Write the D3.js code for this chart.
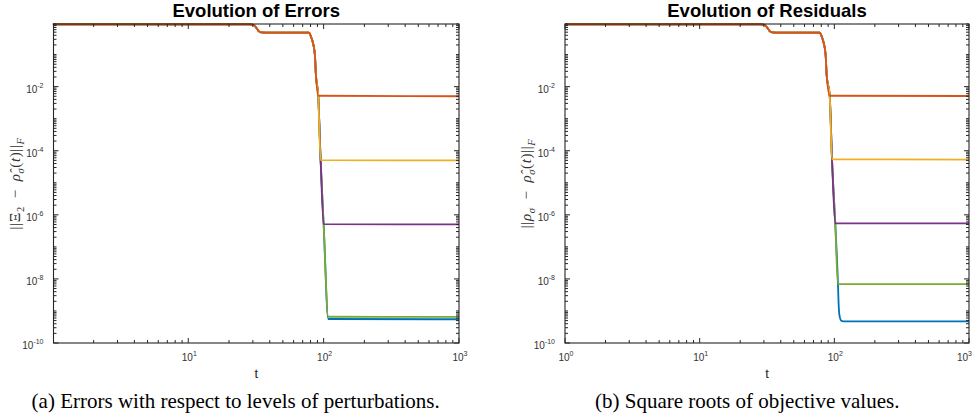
<!DOCTYPE html>
<html>
<head>
<meta charset="utf-8">
<script src="https://cdn.jsdelivr.net/npm/d3@7/dist/d3.min.js"></script>
<style>
  body { margin: 0; background: #fff; }
  svg { display: block; }
  .tick-label { font-family: "Liberation Sans", Arial, sans-serif; font-size: 10px; fill: #333; }
  .title { font-family: "Liberation Sans", Arial, sans-serif; font-size: 18.5px; font-weight: bold; fill: #000; }
  .xlabel { font-family: "Liberation Sans", Arial, sans-serif; font-size: 13px; fill: #262626; }
  .ylabel { font-family: "Liberation Serif", "Times New Roman", serif; font-size: 15px; fill: #333; letter-spacing: 0.6px; }
  .caption { font-family: "Liberation Serif", "Times New Roman", serif; font-size: 21px; fill: #000; }
</style>
</head>
<body>
<div id="chart"></div>
<script>
// drawing order: bottom to top
var seriesNames = ["blue", "green", "purple", "yellow", "orange"];
var seriesColors = ["#0072BD", "#77AC30", "#7E2F8E", "#EDB120", "#D95319"];

// common start of every run (both panels)
var tHead = [1, 28.5, 30.2, 31.2, 32.2, 33.3, 34.8, 37, 77.9, 80.5, 83.4, 86.2, 87.7];
var vHead = [0.87, 0.87, 0.84, 0.76, 0.64, 0.53, 0.49, 0.485, 0.48, 0.37, 0.23, 0.097, 0.023];

// left panel: errors, tails after the common start
var errTailT = {
  blue:   [91.2, 95.0, 100.0, 108.3, 1000],
  green:  [91.2, 95.0, 100.0, 108.1, 1000],
  purple: [91.2, 95.0, 100.0, 1000],
  yellow: [91.2, 95.0, 1000],
  orange: [91.2, 1000]
};
var errTailV = {
  blue:   [5.2e-3, 5.1e-5, 5.1e-7, 5.6e-10, 5.5e-10],
  green:  [5.2e-3, 5.1e-5, 5.1e-7, 6.6e-10, 6.5e-10],
  purple: [5.2e-3, 5.1e-5, 5.1e-7, 5.0e-7],
  yellow: [5.2e-3, 5.1e-5, 5.0e-5],
  orange: [5.2e-3, 5.0e-3]
};

// right panel: residuals
var resTailT = {
  blue:   [92.4, 96.1, 101.6, 106.4, 107.4, 109.2, 113.0, 120, 1000],
  green:  [92.4, 96.1, 101.6, 106.4, 1000],
  purple: [92.4, 96.1, 101.6, 1000],
  yellow: [92.4, 96.1, 1000],
  orange: [92.4, 1000]
};
var resTailV = {
  blue:   [5.2e-3, 5.4e-5, 5.4e-7, 6.9e-9, 2.0e-9, 7.2e-10, 4.9e-10, 4.7e-10, 4.7e-10],
  green:  [5.2e-3, 5.4e-5, 5.4e-7, 6.9e-9, 6.9e-9],
  purple: [5.2e-3, 5.4e-5, 5.4e-7, 5.4e-7],
  yellow: [5.2e-3, 5.4e-5, 5.3e-5],
  orange: [5.2e-3, 5.1e-3]
};

var yDomain = [1e-10, 0.9];
var pageWidth = 973;

var svg = d3.select("#chart").append("svg")
    .attr("width", pageWidth)
    .attr("height", 417);

function Panel(config) {
  var box = config.box;
  var x = d3.scaleLog().domain(config.xDomain).range([box.left, box.right]);
  var y = d3.scaleLog().domain(yDomain).range([box.bottom, box.top]);
  var g = svg.append("g");

  var isPow = function(v) {
    var l = Math.log10(v);
    return Math.abs(l - Math.round(l)) < 1e-6;
  };

  // lines
  var line = d3.line()
      .x(function(d) { return x(d[0]); })
      .y(function(d) { return y(d[1]); })
      .curve(d3.curveMonotoneX);

  seriesNames.forEach(function(name, i) {
    var t = tHead.concat(config.tailT[name]);
    var v = vHead.concat(config.tailV[name]);
    var pts = t.map(function(d, k) { return [d, v[k]]; });
    g.append("path")
        .attr("d", line(pts))
        .attr("fill", "none")
        .attr("stroke", seriesColors[i])
        .attr("stroke-width", 1.8)
        .attr("stroke-linejoin", "round");
  });

  // box
  g.append("rect")
      .attr("x", box.left)
      .attr("y", box.top)
      .attr("width", box.right - box.left)
      .attr("height", box.bottom - box.top)
      .attr("fill", "none")
      .attr("stroke", "#262626")
      .attr("stroke-width", 1.1);

  var ticks = g.append("g").attr("stroke", "#262626").attr("stroke-width", 1);

  x.ticks(20).forEach(function(v) {
    var len = isPow(v) ? 5 : 3;
    var px = x(v);
    ticks.append("line").attr("x1", px).attr("x2", px).attr("y1", box.bottom).attr("y2", box.bottom - len);
    ticks.append("line").attr("x1", px).attr("x2", px).attr("y1", box.top).attr("y2", box.top + len);
    if (isPow(v)) {
      var lbl = g.append("text")
          .attr("class", "tick-label")
          .attr("x", px + 1)
          .attr("y", box.bottom + 18)
          .attr("text-anchor", "middle");
      lbl.append("tspan").text("10");
      lbl.append("tspan").attr("dy", -5).attr("font-size", "7px").text(Math.round(Math.log10(v)));
      // keep the last label inside the page
      var bb = lbl.node().getBBox();
      if (bb.x + bb.width > pageWidth - 1) {
        lbl.attr("x", px + 1 - (bb.x + bb.width - pageWidth + 1));
      }
    }
  });

  y.ticks(20).forEach(function(v) {
    var e = Math.round(Math.log10(v));
    var major = isPow(v) && e % 2 === 0;
    var len = major ? 5 : 3;
    var py = y(v);
    ticks.append("line").attr("y1", py).attr("y2", py).attr("x1", box.left).attr("x2", box.left + len);
    ticks.append("line").attr("y1", py).attr("y2", py).attr("x1", box.right).attr("x2", box.right - len);
    if (major) {
      var lbl = g.append("text")
          .attr("class", "tick-label")
          .attr("x", box.left - 10)
          .attr("y", py + 6)
          .attr("text-anchor", "end");
      lbl.append("tspan").text("10");
      lbl.append("tspan").attr("dy", -5).attr("font-size", "7px").text(e);
    }
  });

  var cx = (box.left + box.right) / 2;

  g.append("text")
      .attr("class", "title")
      .attr("x", cx)
      .attr("y", 17)
      .attr("text-anchor", "middle")
      .text(config.title);

  g.append("text")
      .attr("class", "xlabel")
      .attr("x", cx)
      .attr("y", 378)
      .attr("text-anchor", "middle")
      .text("t");

  // y label, built from pieces so subscripts sit lower
  var ylab = g.append("text")
      .attr("class", "ylabel")
      .attr("text-anchor", "middle")
      .attr("transform", "translate(" + config.ylabelX + "," + ((box.top + box.bottom) / 2) + ") rotate(-90)");
  var shift = 0;
  config.ylabel.forEach(function(p) {
    var want = p.sub ? 4 : 0;
    var ts = ylab.append("tspan")
        .attr("dy", want - shift)
        .attr("font-style", p.it ? "italic" : "normal")
        .text(p.t);
    if (p.sub) ts.attr("font-size", "10.5px");
    shift = want;
  });

  svg.append("text")
      .attr("class", "caption")
      .attr("x", config.captionX)
      .attr("y", 408)
      .attr("text-anchor", "middle")
      .text(config.caption);
}

Panel({
  box: {left: 53.5, right: 459, top: 24, bottom: 343},
  xDomain: [1.01, 1000],
  tailT: errTailT,
  tailV: errTailV,
  title: "Evolution of Errors",
  ylabelX: 20,
  ylabel: [
    {t: "||"}, {t: "\u039E"}, {t: "2", sub: true}, {t: " \u2009\u2212\u2009 "},
    {t: "\u03C1\u0302", it: true}, {t: "\u03C3", it: true, sub: true},
    {t: "("}, {t: "t", it: true}, {t: ")"}, {t: "||"}, {t: "F", it: true, sub: true}
  ],
  captionX: 235.7,
  caption: "(a) Errors with respect to levels of perturbations."
});

Panel({
  box: {left: 565, right: 969, top: 24, bottom: 343},
  xDomain: [1, 1000],
  tailT: resTailT,
  tailV: resTailV,
  title: "Evolution of Residuals",
  ylabelX: 531,
  ylabel: [
    {t: "||"}, {t: "\u03C1", it: true}, {t: "\u03C3", it: true, sub: true}, {t: " \u2009\u2212\u2009 "},
    {t: "\u03C1\u0302", it: true}, {t: "\u03C3", it: true, sub: true},
    {t: "("}, {t: "t", it: true}, {t: ")"}, {t: "||"}, {t: "F", it: true, sub: true}
  ],
  captionX: 747.2,
  caption: "(b) Square roots of objective values."
});
</script>
</body>
</html>
